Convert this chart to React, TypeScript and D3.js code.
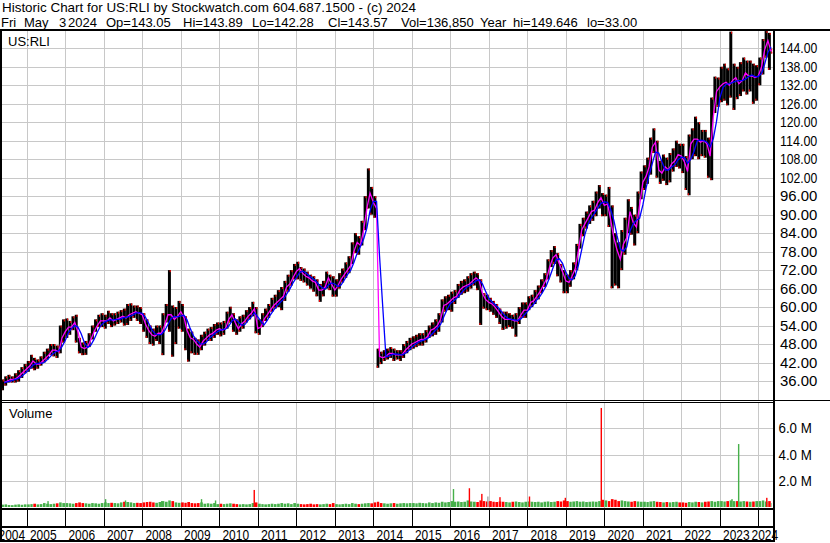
import React from "react";
import * as d3 from "d3";

const FIRST_MONTH = new Date(2004, 4, 1);
const LAST_DAY = new Date(2024, 4, 3);

// Monthly close (level), high and low, May 2004 .. May 2024
const closeP = [
  35.5, 36, 36.5, 36.5, 37, 38, 39, 40,
  41, 42.5, 41.5, 41.5, 42.5, 43.5, 44.5, 46, 46, 45.5, 50, 52,
  53.5, 53.5, 55, 52, 47, 46.5, 47, 49.5, 52, 54, 55.5, 55.5,
  55.5, 56.5, 55.5, 56, 56.5, 57, 56.5, 57.5, 58, 58.5, 58, 57.5,
  54.5, 52.5, 51, 50.5, 51.5, 51.5, 54, 57.5, 57.5, 56, 57, 58.5,
  56.5, 52.5, 50, 49.5, 48, 47, 49, 50, 51, 51.5, 52.5, 53,
  52.5, 53, 56, 57.5, 55, 53, 54.5, 55.5, 57, 58, 59.5, 53,
  53.5, 56, 57.5, 59, 60.5, 61.5, 62.5, 63.5, 66.5, 67.5, 69.5, 71.5,
  72.5, 71, 70, 69.5, 68.5, 68, 65.5, 65.5, 66.5, 69.5, 67.5, 65.5,
  67, 69, 70.5, 72, 73.5, 78, 81, 80, 85, 92, 97, 94,
  92, 44, 43.5, 44, 45, 45, 44.5, 44.5, 44.5, 46, 47, 48,
  48.5, 49, 49.5, 49.5, 50.5, 52.5, 53, 54, 56, 60.5, 61, 62,
  63, 63.5, 65.5, 66.5, 67, 67.5, 68.5, 69.5, 68.5, 64.5, 62.5, 61.5,
  61, 60, 58.5, 57, 56, 56, 56, 55.5, 55.5, 57.5, 59, 59,
  61.5, 62, 63.5, 65, 67, 69, 73, 76, 77, 74, 71.5, 68.5,
  68, 70, 72.5, 78.5, 85, 87, 89, 91, 91.5, 94, 95.5, 93,
  93.5, 88.5, 82.5, 78.5, 75.5, 80.5, 82.5, 91, 87.5, 86, 93, 100.5,
  102.5, 105.5, 112, 113.5, 104.5, 103.5, 105.5, 104.5, 106.5, 107.5, 109.5, 109,
  107, 104, 113, 114.5, 114.5, 113.5, 114, 113, 109, 122, 130, 131.5,
  132.5, 133, 132, 133.5, 134.5, 132.5, 133.5, 136, 135, 135, 134.5, 135,
  138, 143.5, 146.5, 143, 143.57,
];

const highP = [
  36.5, 37.5, 38, 37.5, 38.5, 39.5, 40.5, 41.5,
  42.5, 44.5, 43.5, 43, 44, 45.5, 46.5, 48, 48, 47.5, 54, 56,
  56.3, 55.5, 57, 57.5, 50, 48.5, 49, 51.5, 54, 56, 57.5, 58,
  57.5, 58.8, 58, 58, 58.5, 59, 59.5, 61, 61.2, 60.5, 60.5, 60,
  58, 56, 54, 53, 54, 54, 58, 61, 72, 60.5, 60, 62,
  61, 57, 53, 52, 50, 49.5, 51, 52, 53, 53.5, 54.5, 55,
  55, 55.5, 58.5, 60.1, 58, 56, 57, 57.5, 59, 60, 61.7, 60,
  56, 58, 59.5, 61, 63, 64, 65.5, 66.5, 68.5, 70.5, 72, 74,
  74.7, 73, 72.5, 71.5, 70.5, 70, 69, 67.5, 68.5, 71.5, 70.5, 70,
  69, 71, 72.5, 74.5, 76.5, 81, 84, 83, 88, 96, 105, 99,
  96, 46.5, 45.5, 46, 46.5, 47, 46.5, 46, 46, 48, 49, 50,
  50.5, 51, 51.5, 51.5, 52.5, 54, 55, 56, 58, 62.5, 63.5, 64,
  65, 65.5, 67.5, 68.5, 69, 70, 71, 71.5, 71, 69, 64.5, 64,
  63, 62, 61, 59.5, 58.5, 58.5, 58, 57.5, 58, 60, 61.5, 61.5,
  63.5, 64, 65.5, 67, 69, 71, 75.5, 78.5, 79.8, 77.5, 74, 72,
  70.5, 72, 74.5, 80.5, 87, 89, 91, 93, 94.5, 97.5, 99.6, 97,
  96.5, 99, 93, 84, 81, 85, 89, 95, 92.5, 90, 97.5, 104,
  106, 108.5, 115, 118, 114, 107.5, 109.5, 108.5, 110, 111.5, 114, 113,
  113, 109, 116, 118, 121.8, 120, 117.5, 117.5, 115, 128, 134.8, 134.5,
  138, 139, 137.5, 149.4, 139, 138, 139.5, 141, 140, 140, 139, 138.5,
  141, 147, 149.6, 149, 143.89,
];

const lowP = [
  33, 34.5, 35.5, 35.5, 35.5, 35.8, 37, 38.5,
  39, 40, 39.5, 40, 41, 42, 43, 44.5, 44, 43.5, 45, 48.5,
  50, 51, 52.5, 48.5, 45, 44.4, 44.5, 47, 49.5, 52, 53.5, 53.5,
  53, 54.5, 53.5, 54, 54.5, 55, 54, 54.2, 55.5, 56.5, 55.5, 54.5,
  52, 50, 48, 47.5, 49, 48, 44.4, 55, 52, 43.9, 48, 53,
  52, 46, 42.3, 45, 44.5, 44.5, 46, 47.5, 49, 49, 50, 51,
  50.5, 51, 53, 55, 52, 51, 52, 53, 55, 56, 57, 51.5,
  51, 53.5, 55.5, 56.5, 58.5, 59.5, 60, 59, 62, 65, 67, 69,
  69, 68.5, 68, 67, 66, 65, 63.5, 61.7, 63.5, 66, 65.5, 63.4,
  63.4, 66, 68, 69.5, 71, 74, 77.5, 77, 80, 85, 92, 90,
  89, 40.3, 41.5, 42.5, 43, 43.5, 42.5, 43, 42.5, 43.5, 45, 46,
  46.5, 47, 47.5, 47.5, 48.5, 50, 50.5, 51, 52, 55, 58.5, 59,
  58.5, 61, 63, 64, 64.5, 65, 66, 67, 65.5, 54.2, 59.5, 59,
  58.5, 57.5, 56.5, 54.5, 52.6, 53, 53.5, 53, 50.4, 54.5, 56.5, 56.5,
  59, 60, 61, 62.5, 64.5, 66.5, 69, 73, 74, 70, 68, 64.5,
  64.5, 66.6, 69, 72, 79, 83, 85.5, 87, 88, 89.5, 92, 89.5,
  89.5, 86, 66.1, 67, 66.1, 72, 77, 84, 83.5, 80, 84, 95,
  98, 100, 103, 110, 102, 100, 101, 99.6, 100.5, 104, 105.5, 105,
  103.5, 98, 96.3, 108, 109, 108, 109, 108.5, 102, 101.2, 123, 125,
  126.5, 127, 125.5, 128, 124, 127.5, 128.5, 130, 129, 130, 126, 127,
  132, 135.5, 141, 137, 142.28,
];

// Typical daily volume per month (millions)
const volumeM = [
  0.18, 0.2, 0.15, 0.14, 0.18, 0.2, 0.17, 0.2,
  0.2, 0.22, 0.25, 0.2, 0.22, 0.3, 0.25, 0.22, 0.25, 0.28, 0.35, 0.3,
  0.3, 0.28, 0.25, 0.3, 0.35, 0.3, 0.28, 0.25, 0.3, 0.28, 0.25, 0.3,
  0.35, 0.3, 0.32, 0.3, 0.28, 0.35, 0.4, 0.38, 0.35, 0.3, 0.32, 0.3,
  0.35, 0.38, 0.4, 0.35, 0.32, 0.38, 0.45, 0.4, 0.5, 0.45, 0.35, 0.32,
  0.35, 0.32, 0.38, 0.3, 0.28, 0.3, 0.35, 0.25, 0.28, 0.25, 0.3, 0.22,
  0.25, 0.22, 0.25, 0.28, 0.25, 0.22, 0.2, 0.22, 0.2, 0.22, 0.3, 0.35,
  0.25, 0.22, 0.2, 0.22, 0.25, 0.22, 0.25, 0.3, 0.25, 0.28, 0.22, 0.3,
  0.25, 0.22, 0.2, 0.22, 0.25, 0.2, 0.22, 0.2, 0.22, 0.25, 0.22, 0.3,
  0.22, 0.2, 0.22, 0.25, 0.22, 0.3, 0.25, 0.22, 0.25, 0.28, 0.3, 0.28,
  0.35, 0.4, 0.3, 0.28, 0.25, 0.28, 0.3, 0.25, 0.28, 0.3, 0.28, 0.3,
  0.3, 0.28, 0.32, 0.3, 0.28, 0.35, 0.3, 0.35, 0.32, 0.4, 0.35, 0.38,
  0.45, 0.4, 0.42, 0.38, 0.4, 0.5, 0.42, 0.4, 0.38, 0.5, 0.45, 0.42,
  0.45, 0.4, 0.38, 0.42, 0.4, 0.38, 0.35, 0.4, 0.42, 0.38, 0.35, 0.4,
  0.42, 0.4, 0.38, 0.4, 0.35, 0.4, 0.42, 0.38, 0.4, 0.45, 0.42, 0.5,
  0.45, 0.4, 0.42, 0.45, 0.4, 0.42, 0.38, 0.4, 0.42, 0.4, 0.45, 0.55,
  0.5, 0.45, 0.6, 0.55, 0.45, 0.5, 0.45, 0.42, 0.4, 0.45, 0.42, 0.4,
  0.4, 0.38, 0.42, 0.45, 0.4, 0.38, 0.35, 0.38, 0.35, 0.38, 0.4, 0.35,
  0.35, 0.32, 0.38, 0.35, 0.4, 0.38, 0.35, 0.4, 0.42, 0.45, 0.4, 0.45,
  0.45, 0.42, 0.45, 0.5, 0.45, 0.45, 0.42, 0.45, 0.42, 0.4, 0.42, 0.45,
  0.45, 0.5, 0.42, 0.45, 0.3,
];

// Individual high-volume days
const spikeDates = [
  "2005-07-15", "2007-01-12", "2007-07-20", "2008-06-27", "2009-07-10", "2009-11-20",
  "2010-11-22", "2016-01-25", "2016-06-24", "2016-10-20", "2016-12-16", "2017-04-10",
  "2018-01-15", "2018-12-21", "2019-11-27", "2023-04-20", "2023-06-22", "2024-03-15",
];
const spikeVolumeM = [0.45, 0.6, 0.5, 0.45, 0.6, 0.5, 1.3, 1.37, 1.43, 1.0, 0.8, 0.75, 0.8, 0.7, 7.55, 0.6, 4.8, 0.7];
const spikeDir = [1, 1, 1, 1, 1, 1, -1, 1, -1, -1, 0, -1, -1, -1, -1, 1, 1, -1];

const priceTicks = [36, 42, 48, 54, 60, 66, 72, 78, 84, 90, 96, 102, 108, 114, 120, 126, 132, 138, 144];
const volumeTicks = [2, 4, 6];
const yearTicks = [2004, 2005, 2006, 2007, 2008, 2009, 2010, 2011, 2012, 2013, 2014, 2015, 2016, 2017, 2018, 2019, 2020, 2021, 2022, 2023, 2024];

const title = "Historic Chart for US:RLI by Stockwatch.com 604.687.1500 - (c) 2024";
const quoteTokens = ["Fri", "May", "3", "2024", "Op=143.05", "Hi=143.89", "Lo=142.28", "Cl=143.57", "Vol=136,850", "Year", "hi=149.646", "lo=33.00"];
const symbol = "US:RLI";

const GREEN = "#46b04a";
const RED = "#ff0000";
const GRAY = "#a8a8a8";
const GRID = "#c8c8c8";

export default function App() {
  const FONT = "'Liberation Sans', Arial, sans-serif";
  const L = 2, R = 773;
  const PT = 31, PB = 400, VT = 403, VB = 509;

  const x = d3.scaleTime().domain([new Date(2004, 0, 1), new Date(2024, 0, 1)]).range([-11.8, 758.3]);
  const y = d3.scaleLinear().domain([36, 144]).range([381, 48.3]);
  const yv = d3.scaleLinear().domain([0, 6]).range([507, 428.3]);

  const months = closeP.map((_, i) => d3.timeMonth.offset(FIRST_MONTH, i));
  const ends = months.map((m) => {
    const e = d3.timeMonth.offset(m, 1);
    return e > LAST_DAY ? LAST_DAY : e;
  });
  const ma3 = closeP.map((_, i) => d3.mean(closeP.slice(Math.max(0, i - 2), i + 1)) as number);

  const line = d3.line<number>().x((_, i) => x(ends[i])).y((d) => y(d));
  const magentaPath = line(closeP) || "";
  const bluePath = line(ma3) || "";

  const tokenX = [1, 24, 59, 68, 106, 183, 252, 328, 401, 480, 513, 587];

  return (
    <svg
      width={830}
      height={543}
      style={{ position: "absolute", left: 0, top: 0, background: "#fff" }}
      fontFamily={FONT}
    >
      <defs>
        <clipPath id="pc">
          <rect x={L} y={PT} width={R - L} height={PB - PT} />
        </clipPath>
        <clipPath id="vc">
          <rect x={L} y={VT} width={R - L} height={VB - VT} />
        </clipPath>
      </defs>
      <rect x={0} y={0} width={830} height={543} fill="#fff" />

      {/* header */}
      <text x={2} y={11.5} fontSize={13.5} textLength={414} lengthAdjust="spacingAndGlyphs" fill="#000">
        {title}
      </text>
      {quoteTokens.map((t, i) => (
        <text key={i} x={tokenX[i]} y={26.5} fontSize={13} fill="#000">
          {t}
        </text>
      ))}

      {/* grids */}
      <g shapeRendering="crispEdges">
        {priceTicks.map((p) => (
          <line key={p} x1={L} x2={R} y1={Math.round(y(p)) + 0.5} y2={Math.round(y(p)) + 0.5} stroke={GRID} strokeWidth={1} />
        ))}
        {yearTicks.slice(1).map((yr) => {
          const xx = Math.round(x(new Date(yr, 0, 1))) + 0.5;
          return (
            <g key={yr}>
              <line x1={xx} x2={xx} y1={PT} y2={PB} stroke={GRID} strokeWidth={1} />
              <line x1={xx} x2={xx} y1={VT} y2={VB} stroke={GRID} strokeWidth={1} />
              <line x1={xx} x2={xx} y1={VB} y2={526} stroke="#000" strokeWidth={1.3} />
            </g>
          );
        })}
        {volumeTicks.map((v) => (
          <line key={v} x1={L} x2={R} y1={Math.round(yv(v)) + 0.5} y2={Math.round(yv(v)) + 0.5} stroke={GRID} strokeWidth={1} />
        ))}
      </g>

      {/* price bars */}
      <g clipPath="url(#pc)">
        {closeP.map((c, i) => {
          const x0 = x(months[i]);
          const x1 = x(ends[i]);
          const w = Math.max(0.6, x1 - x0 - 0.2);
          return (
            <rect key={i} x={x0} y={y(highP[i])} width={w} height={y(lowP[i]) - y(highP[i])} fill="#000" />
          );
        })}
        {closeP.map((c, i) => {
          const x0 = x(months[i]);
          const x1 = x(ends[i]);
          const xm = x0 + (x1 - x0) * 0.55;
          return (
            <g key={"r" + i}>
              <rect x={xm} y={y(highP[i])} width={1.1} height={2} fill={RED} />
              <rect x={x0 + 0.2} y={y(lowP[i]) - 2} width={1.1} height={2} fill={RED} />
            </g>
          );
        })}
        <path d={magentaPath} fill="none" stroke="#ff00ff" strokeWidth={1.3} />
        <path d={bluePath} fill="none" stroke="#0000ff" strokeWidth={1.3} />
      </g>

      {/* volume */}
      <g clipPath="url(#vc)">
        {volumeM.map((v, i) => {
          const x0 = x(months[i]);
          const x1 = x(ends[i]);
          const dir = i === 0 ? 1 : closeP[i] - closeP[i - 1];
          return (
            <rect
              key={i}
              x={x0 + 0.3}
              y={yv(v)}
              width={Math.max(0.5, x1 - x0 - 0.6)}
              height={yv(0) - yv(v)}
              fill={dir >= 0 ? GREEN : RED}
            />
          );
        })}
        {spikeDates.map((d, i) => {
          const xx = x(new Date(d));
          return (
            <rect
              key={"s" + i}
              x={xx}
              y={yv(spikeVolumeM[i])}
              width={1.4}
              height={yv(0) - yv(spikeVolumeM[i])}
              fill={spikeDir[i] > 0 ? GREEN : spikeDir[i] < 0 ? RED : GRAY}
            />
          );
        })}
      </g>

      {/* panel labels */}
      <text x={8} y={46} fontSize={13} fill="#000">{symbol}</text>
      <text x={9} y={418} fontSize={13} fill="#000">Volume</text>

      {/* right axis labels */}
      {priceTicks.map((p) => (
        <text key={p} x={780} y={y(p) + 5} fontSize={14} textLength={37.3} lengthAdjust="spacingAndGlyphs" fill="#000">
          {p.toFixed(2)}
        </text>
      ))}
      {volumeTicks.map((v) => (
        <text key={v} x={778.5} y={yv(v) + 5} fontSize={14} textLength={33.3} lengthAdjust="spacingAndGlyphs" fill="#000">
          {v.toFixed(1) + " M"}
        </text>
      ))}

      {/* year labels */}
      {yearTicks.map((yr) => {
        const xx = Math.min(751.5, Math.max(-1.5, x(new Date(yr, 0, 1)) + 3.2));
        return (
          <text key={yr} x={xx} y={539.5} fontSize={14} textLength={26.6} lengthAdjust="spacingAndGlyphs" fill="#000">
            {String(yr)}
          </text>
        );
      })}

      {/* frame */}
      <g fill="#000" shapeRendering="crispEdges">
        <rect x={0} y={29} width={830} height={2} />
        <rect x={0} y={29} width={2} height={513} />
        <rect x={772.7} y={29} width={2.6} height={513} />
        <rect x={0} y={399.5} width={830} height={1.2} />
        <rect x={0} y={402.2} width={774} height={1.2} />
        <rect x={0} y={508.3} width={774} height={1.7} />
        <rect x={0} y={525.8} width={774} height={1.7} />
        <rect x={0} y={540.3} width={774} height={2} />
      </g>
    </svg>
  );
}
